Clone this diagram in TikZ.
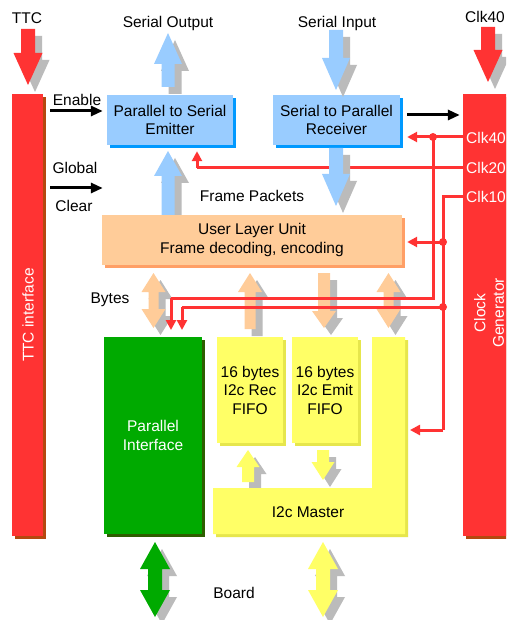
\documentclass[tikz,border=0pt]{standalone}
\usepackage{fontspec}
\setmainfont{Liberation Sans}
\usetikzlibrary{arrows.meta,shadows}
\definecolor{cred}{HTML}{FF3333}
\definecolor{credshd}{HTML}{B5480F}
\definecolor{cblue}{HTML}{99CCFF}
\definecolor{cblueshd}{HTML}{0099FF}
\definecolor{cpeach}{HTML}{FFCC99}
\definecolor{cpeachshd}{HTML}{FF9F66}
\definecolor{cgreen}{HTML}{00AA00}
\definecolor{cgreenshd}{HTML}{2E5E00}
\definecolor{cyel}{HTML}{FFFF66}
\definecolor{cyelshd}{HTML}{E6E64C}
\definecolor{cshd}{HTML}{BBBBBB}
% block arrows: #1 fill, #2 x, #3 tip y, #4 base y, #5 shaft half, #6 head half, #7 head length
\newcommand\BUp[7]{%
 \fill[cshd,shift={(7,7)}] (#2-#5,#4) -- (#2-#5,#3+#7) -- (#2-#6,#3+#7) -- (#2,#3) -- (#2+#6,#3+#7) -- (#2+#5,#3+#7) -- (#2+#5,#4) -- cycle;
 \fill[#1] (#2-#5,#4) -- (#2-#5,#3+#7) -- (#2-#6,#3+#7) -- (#2,#3) -- (#2+#6,#3+#7) -- (#2+#5,#3+#7) -- (#2+#5,#4) -- cycle;}
\newcommand\BDown[7]{%
 \fill[cshd,shift={(7,7)}] (#2-#5,#4) -- (#2-#5,#3-#7) -- (#2-#6,#3-#7) -- (#2,#3) -- (#2+#6,#3-#7) -- (#2+#5,#3-#7) -- (#2+#5,#4) -- cycle;
 \fill[#1] (#2-#5,#4) -- (#2-#5,#3-#7) -- (#2-#6,#3-#7) -- (#2,#3) -- (#2+#6,#3-#7) -- (#2+#5,#3-#7) -- (#2+#5,#4) -- cycle;}
% double: #3 top tip, #4 bottom tip
\newcommand\BDouble[7]{%
 \fill[cshd,shift={(7,7)}] (#2,#3) -- (#2+#6,#3+#7) -- (#2+#5,#3+#7) -- (#2+#5,#4-#7) -- (#2+#6,#4-#7) -- (#2,#4) -- (#2-#6,#4-#7) -- (#2-#5,#4-#7) -- (#2-#5,#3+#7) -- (#2-#6,#3+#7) -- cycle;
 \fill[#1] (#2,#3) -- (#2+#6,#3+#7) -- (#2+#5,#3+#7) -- (#2+#5,#4-#7) -- (#2+#6,#4-#7) -- (#2,#4) -- (#2-#6,#4-#7) -- (#2-#5,#4-#7) -- (#2-#5,#3+#7) -- (#2-#6,#3+#7) -- cycle;}
\tikzset{
 txt/.style={font=\fontsize{15.5}{18.5}\selectfont, inner sep=0pt, align=center},
 boxbase/.style={txt, rectangle},
 bluebox/.style={boxbase, fill=cblue, general shadow={fill=cblueshd, shadow xshift=3pt, shadow yshift=-3pt}},
 peachbox/.style={boxbase, fill=cpeach, general shadow={fill=cpeachshd, shadow xshift=3pt, shadow yshift=-3pt}},
 greenbox/.style={boxbase, fill=cgreen, text=white, general shadow={fill=cgreenshd, shadow xshift=3pt, shadow yshift=-3pt}},
 yelbox/.style={boxbase, fill=cyel, general shadow={fill=cyelshd, shadow xshift=3pt, shadow yshift=-3pt}},
 redbar/.style={boxbase, fill=cred, general shadow={fill=credshd, shadow xshift=3pt, shadow yshift=-3pt}},
 blk/.style={line width=3pt, -{Triangle[length=12pt,width=10pt]}},
 clk/.style={draw=cred, line width=3pt},
 clkarr/.style={clk, -{Triangle[length=10pt,width=10pt]}},
 dot/.style={circle, fill=cred, inner sep=0pt, minimum size=8pt},
}
\begin{document}
\begin{tikzpicture}[x=1pt,y=-1pt]
\useasboundingbox (0,0) rectangle (506,620);
\clip (0,0) rectangle (506,620);
\fill[white] (0,0) rectangle (506,620);

% Clk20 line lies beneath the blue arrows
\coordinate (c20s) at (463,168);
\coordinate (c20c) at (197,168);

% bars
\node[redbar, minimum width=31pt, minimum height=442pt] (ttc) at (27.5,315) {};
\node[txt, text=white, rotate=90] (ttclab) at (28,315) {TTC interface};
\node[redbar, minimum width=60pt, minimum height=442pt] (clkgen) at (493,315) {};
\node[txt, text=white, rotate=90] (clklab) at (489,313) {Clock\\Generator};

% boxes
\node[bluebox, minimum width=126pt, minimum height=50pt] (emit) at (170,120) {Parallel to Serial\\Emitter};
\node[bluebox, minimum width=127pt, minimum height=50pt] (recv) at (336.5,120) {Serial to Parallel\\Receiver};

\draw[clk] (c20s) -- (c20c);
\draw[clkarr] (c20c) -- ([yshift=-6pt]emit.south -| c20c);

% big arrows
\BDown{cred}{28}{85}{29}{7}{14.5}{32}
\BDown{cred}{488}{82}{27}{7}{14.5}{32}
\BUp{cblue}{168}{33}{87}{6.5}{14}{31}
\BUp{cblue}{168}{151}{216}{6.5}{14}{25}
\BDown{cblue}{336}{90}{30}{7}{14}{32}
\BDown{cblue}{336}{206}{148}{7}{14}{32}

% bytes arrows
\BDouble{cpeach}{153.5}{273}{328}{5}{12}{19}
\BUp{cpeach}{250}{273}{329}{5.5}{12}{19}
\BDown{cpeach}{324}{328}{273}{6}{12}{17}
\BDouble{cpeach}{388.5}{273}{328}{5}{12}{19}

% bottom arrows
\BDouble{cgreen}{155}{542}{617}{7}{15}{27}
\BDouble{cyel}{323}{542}{617}{7}{15}{27}
\BUp{cyel}{248}{450}{482}{6}{11.5}{17}
\BDown{cyel}{323}{480}{450}{6}{11.5}{18}

\node[peachbox, minimum width=300pt, minimum height=50pt] (ull) at (252,240) {User Layer Unit\\Frame decoding, encoding};
\node[greenbox, minimum width=98pt, minimum height=197pt] (pi) at (153,435.5) {Parallel\\Interface};
\node[yelbox, minimum width=66pt, minimum height=106pt] (rfifo) at (250,390) {16 bytes\\I2c Rec\\FIFO};
\node[yelbox, minimum width=66pt, minimum height=106pt] (efifo) at (325,390) {16 bytes\\I2c Emit\\FIFO};
% I2c master L shape
\fill[cyelshd, shift={(3,3)}] (372,337) -- (405,337) -- (405,534) -- (213,534) -- (213,488) -- (372,488) -- cycle;
\fill[cyel] (372,337) -- (405,337) -- (405,534) -- (213,534) -- (213,488) -- (372,488) -- cycle;
\coordinate (mE) at (405,430);
\node[txt] (master) at (308,512) {I2c Master};

% labels
\node[txt] (lttc) at (27,18) {TTC};
\node[txt] (lso) at (168,23) {Serial Output};
\node[txt] (lsi) at (337,23) {Serial Input};
\node[txt, anchor=west] (lclk) at (465,17) {Clk40};
\node[txt] (len) at (77,100) {Enable};
\node[txt] (lgl) at (75,168) {Global};
\node[txt] (lcl) at (74,206) {Clear};
\node[txt] (lfp) at (252,196) {Frame Packets};
\node[txt] (lby) at (110,300) {Bytes};
\node[txt] (lbo) at (234,593) {Board};
\node[txt, text=white, anchor=west] (l40) at (466,138) {Clk40};
\node[txt, text=white, anchor=west] (l20) at (466,168) {Clk20};
\node[txt, text=white, anchor=west] (l10) at (466,197) {Clk10};

% black arrows
\coordinate (enA) at (50,111);
\coordinate (gcA) at (50,188);
\draw[blk, shorten >=4pt] (enA) -- (enA -| emit.west);
\draw[blk, shorten >=4pt] (gcA) -- (gcA -| emit.west);
\draw[blk, shorten <=7pt, shorten >=3pt] (recv.east |- 0,115) -- (clkgen.west |- 0,115);

% clock lines
\coordinate (c40s) at (463,137);
\coordinate (c40d) at (433,137);
\coordinate (c40b) at (433,298);
\coordinate (c40l) at (171,298);
\draw[clkarr, shorten >=7pt] (c40s) -- (recv.east |- c40s);
\draw[clk] (c40d) -- (c40b) -- (c40l);
\draw[clkarr] (c40l) -- (c40l |- 0,330);
\node[dot] at (c40d) {};

\coordinate (c10s) at (463,197);
\coordinate (c10c) at (443,197);
\coordinate (c10u) at (443,242);
\coordinate (c10p) at (443,307);
\coordinate (c10m) at (443,430);
\coordinate (c10l) at (182,307);
\draw[clk] (c10s) -- (c10c) -- (c10m);
\draw[clkarr] (c10m) -- ([xshift=5pt]mE);
\draw[clkarr, shorten >=5pt] (c10u) -- (ull.east |- c10u);
\draw[clk] (c10p) -- (c10l);
\draw[clkarr] (c10l) -- (c10l |- 0,330);
\node[dot] at (c10u) {};
\node[dot] at (c10p) {};
\end{tikzpicture}
\end{document}
